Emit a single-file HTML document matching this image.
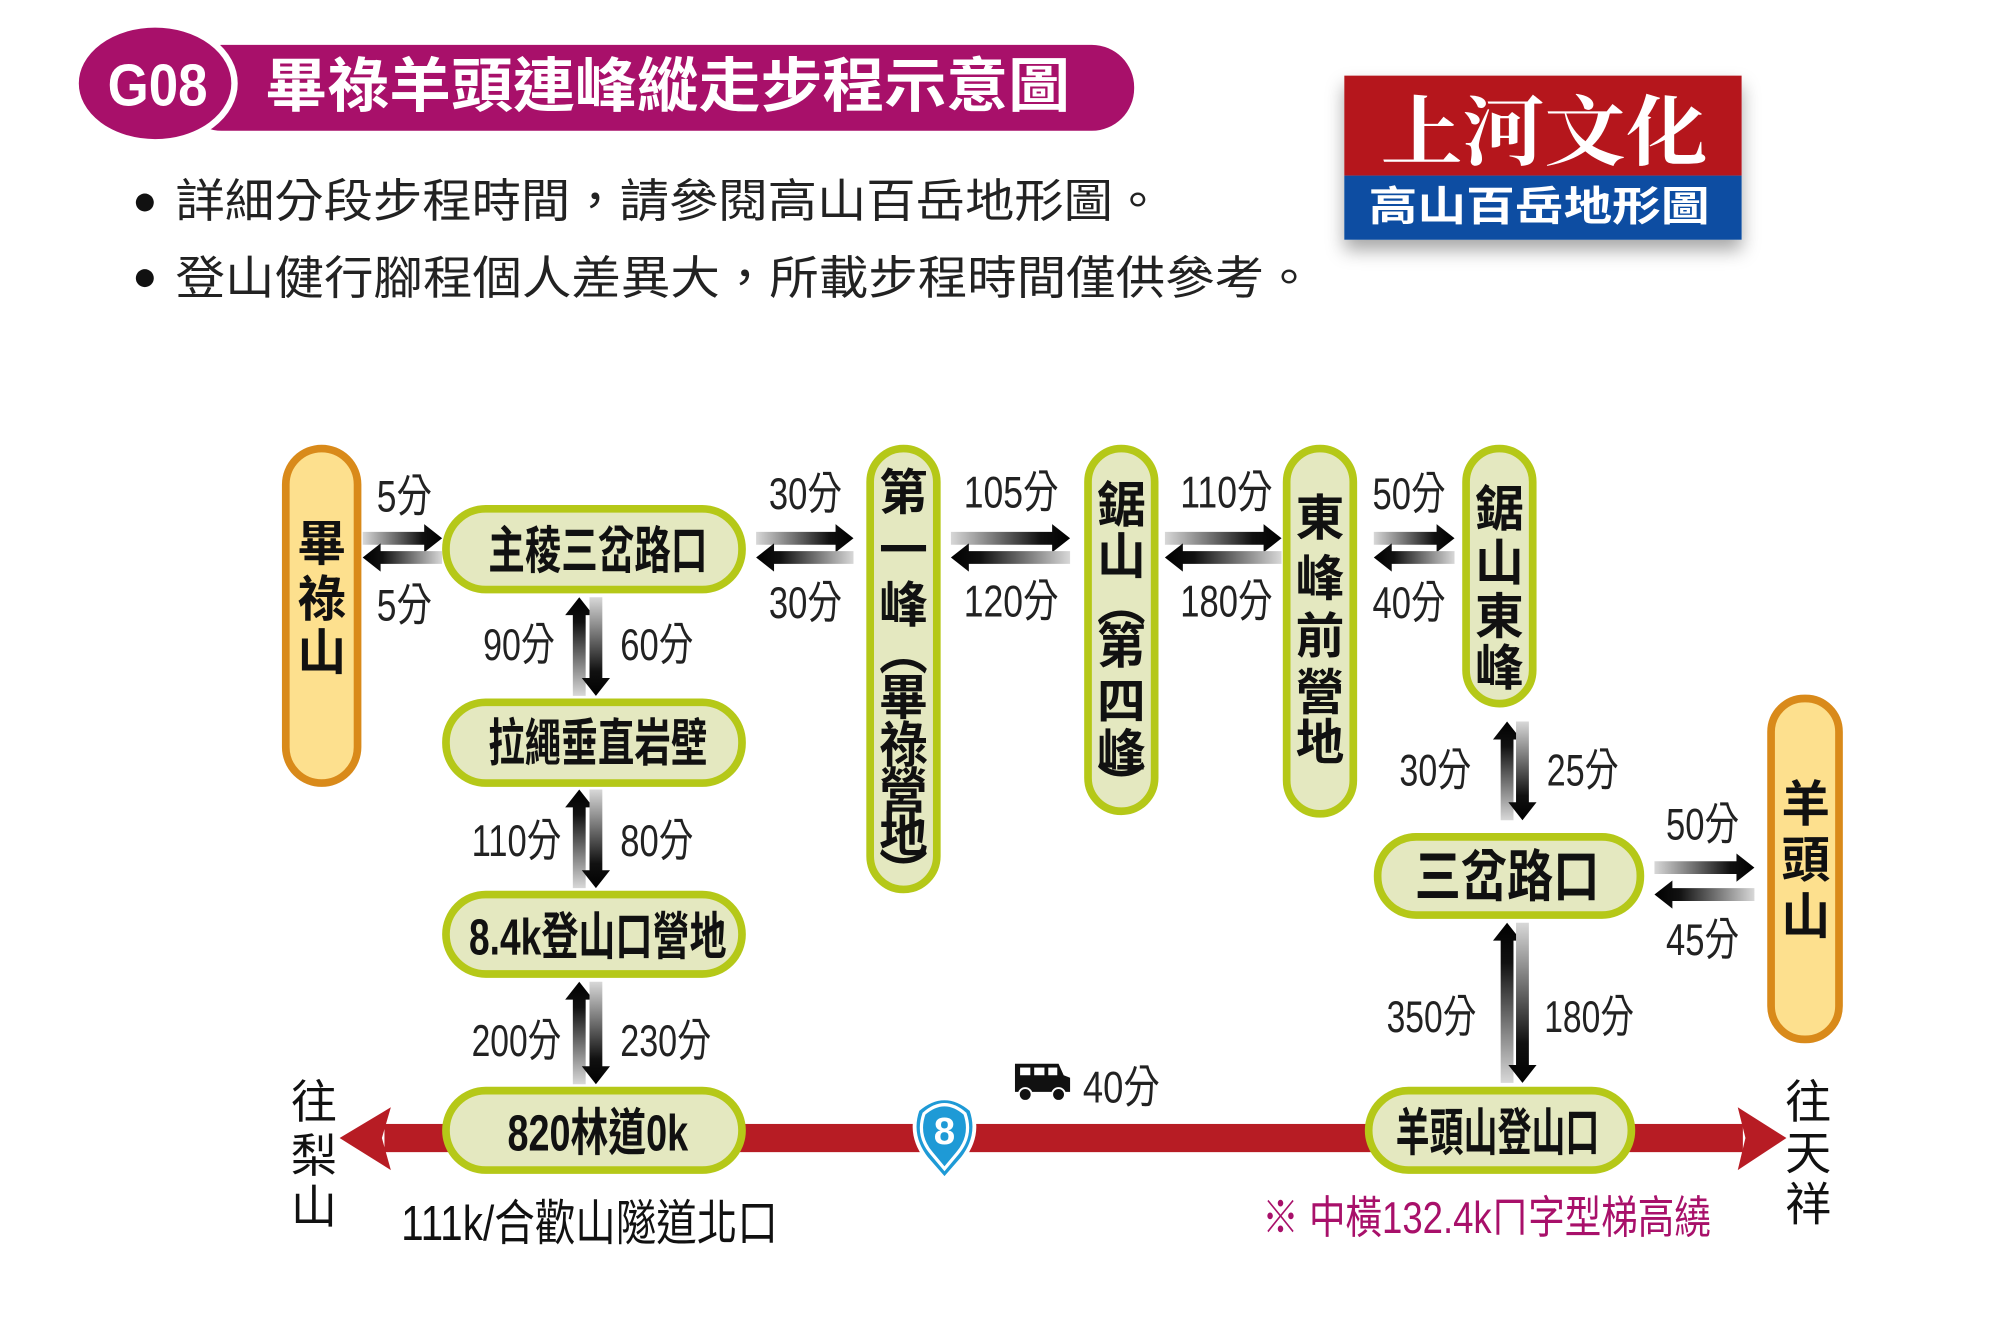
<!DOCTYPE html>
<html><head><meta charset="utf-8"><style>
html,body{margin:0;padding:0;background:#fff;}
svg{display:block;}
text{font-family:"Liberation Sans","Noto Sans CJK TC",sans-serif;}
.n{font-weight:bold;fill:#111;}
.l{fill:#222;font-size:35px;}
.v{font-weight:bold;fill:#111;font-size:38px;}
</style></head><body>
<svg width="2012" height="1338" viewBox="0 0 1570 1044" xmlns="http://www.w3.org/2000/svg">
<defs>
<linearGradient id="gR" x1="0" y1="0" x2="1" y2="0"><stop offset="0" stop-color="#d8d8d8"/><stop offset="0.75" stop-color="#111"/><stop offset="1" stop-color="#000"/></linearGradient>
<linearGradient id="gL" x1="1" y1="0" x2="0" y2="0"><stop offset="0" stop-color="#d8d8d8"/><stop offset="0.75" stop-color="#111"/><stop offset="1" stop-color="#000"/></linearGradient>
<linearGradient id="gU" x1="0" y1="1" x2="0" y2="0"><stop offset="0" stop-color="#d8d8d8"/><stop offset="0.75" stop-color="#111"/><stop offset="1" stop-color="#000"/></linearGradient>
<linearGradient id="gD" x1="0" y1="0" x2="0" y2="1"><stop offset="0" stop-color="#d8d8d8"/><stop offset="0.75" stop-color="#111"/><stop offset="1" stop-color="#000"/></linearGradient>
<filter id="sh" x="-10%" y="-10%" width="120%" height="140%"><feDropShadow dx="0" dy="8" stdDeviation="7" flood-color="#000" flood-opacity="0.35"/></filter>
</defs>

<!-- Header -->
<rect x="140" y="35" width="745" height="67" rx="33" fill="#a8106a"/>
<ellipse cx="121" cy="65" rx="62" ry="46" fill="#a8106a" stroke="#fff" stroke-width="5"/>
<text x="84" y="67" dominant-baseline="central" font-size="46" font-weight="bold" fill="#fff" textLength="78" lengthAdjust="spacingAndGlyphs">G08</text>
<text x="207" y="68" dominant-baseline="central" font-size="46" font-weight="bold" fill="#fff" textLength="628" lengthAdjust="spacingAndGlyphs">畢祿羊頭連峰縱走步程示意圖</text>

<circle cx="113" cy="158" r="7" fill="#111"/>
<text x="137" y="157" dominant-baseline="central" font-size="36" fill="#222" textLength="770" lengthAdjust="spacingAndGlyphs">詳細分段步程時間，請參閱高山百岳地形圖。</text>
<circle cx="113" cy="217" r="7" fill="#111"/>
<text x="137" y="217" dominant-baseline="central" font-size="36" fill="#222" textLength="888" lengthAdjust="spacingAndGlyphs">登山健行腳程個人差異大，所載步程時間僅供參考。</text>

<!-- Logo -->
<g filter="url(#sh)">
<rect x="1049" y="59" width="310" height="78" fill="#b5121b"/>
<rect x="1049" y="137" width="310" height="50" fill="#0b4ea2"/>
</g>
<text x="1205" y="98" text-anchor="middle" dominant-baseline="central" font-size="60" font-weight="bold" fill="#fff" style="font-family:'Noto Serif CJK SC','Noto Sans CJK TC',serif" textLength="255" lengthAdjust="spacingAndGlyphs">上河文化</text>
<text x="1201" y="161" text-anchor="middle" dominant-baseline="central" font-size="32" font-weight="bold" fill="#fff" textLength="266" lengthAdjust="spacingAndGlyphs">高山百岳地形圖</text>

<!-- Road -->
<rect x="300" y="877" width="1060" height="22" fill="#b71c24"/>
<polygon points="265,888 305,864 298,888 305,913" fill="#b71c24"/>
<polygon points="1394,888 1356,864 1362,888 1356,913" fill="#b71c24"/>

<!-- Route 8 shield -->
<path d="M716,866 Q737,848 758,866 Q765,886 751,904 L737,920 L723,904 Q709,886 716,866 Z" fill="#1e9ad6" stroke="#fff" stroke-width="3"/>
<path d="M721,869 Q737,855 753,869 Q759,886 747,900 L737,912 L727,900 Q715,886 721,869 Z" fill="none" stroke="#fff" stroke-width="2.5"/>
<text x="737" y="883" text-anchor="middle" dominant-baseline="central" font-size="30" font-weight="bold" fill="#fff">8</text>

<!-- Car -->
<path d="M792,830 L826,830 L830,839 L835,841 L835,852 L792,852 Z" fill="#111"/>
<rect x="796" y="833" width="8" height="6" fill="#fff"/><rect x="807" y="833" width="8" height="6" fill="#fff"/><rect x="818" y="833" width="7" height="6" fill="#fff"/>
<circle cx="800" cy="854" r="5" fill="#111" stroke="#fff" stroke-width="1.5"/><circle cx="826" cy="854" r="5" fill="#111" stroke="#fff" stroke-width="1.5"/>
<text class="l" x="845" y="848" dominant-baseline="central" textLength="60" lengthAdjust="spacingAndGlyphs">40分</text>

<!-- Horizontal arrows -->
<g>
<polygon fill="url(#gR)" points="283,415 331,415 331,409 345,420 331,431 331,425 283,425"/>
<polygon fill="url(#gL)" points="345,430 297,430 297,424 283,435 297,446 297,440 345,440"/>
<polygon fill="url(#gR)" points="590,415 652,415 652,409 666,420 652,431 652,425 590,425"/>
<polygon fill="url(#gL)" points="666,430 604,430 604,424 590,435 604,446 604,440 666,440"/>
<polygon fill="url(#gR)" points="742,415 821,415 821,409 835,420 821,431 821,425 742,425"/>
<polygon fill="url(#gL)" points="835,430 756,430 756,424 742,435 756,446 756,440 835,440"/>
<polygon fill="url(#gR)" points="909,415 986,415 986,409 1000,420 986,431 986,425 909,425"/>
<polygon fill="url(#gL)" points="1000,430 923,430 923,424 909,435 923,446 923,440 1000,440"/>
<polygon fill="url(#gR)" points="1072,415 1121,415 1121,409 1135,420 1121,431 1121,425 1072,425"/>
<polygon fill="url(#gL)" points="1135,430 1086,430 1086,424 1072,435 1086,446 1086,440 1135,440"/>
<polygon fill="url(#gR)" points="1291,672 1355,672 1355,666 1369,677 1355,688 1355,682 1291,682"/>
<polygon fill="url(#gL)" points="1369,693 1305,693 1305,687 1291,698 1305,709 1305,703 1369,703"/>
</g>
<!-- Vertical arrows -->
<g>
<polygon fill="url(#gU)" points="447,543 447,480 441,480 452,466 463,480 457,480 457,543"/>
<polygon fill="url(#gD)" points="460,466 460,529 454,529 465,543 476,529 470,529 470,466"/>
<polygon fill="url(#gU)" points="447,693 447,630 441,630 452,616 463,630 457,630 457,693"/>
<polygon fill="url(#gD)" points="460,616 460,679 454,679 465,693 476,679 470,679 470,616"/>
<polygon fill="url(#gU)" points="447,846 447,780 441,780 452,766 463,780 457,780 457,846"/>
<polygon fill="url(#gD)" points="460,766 460,832 454,832 465,846 476,832 470,832 470,766"/>
<polygon fill="url(#gU)" points="1171,640 1171,577 1165,577 1176,563 1187,577 1181,577 1181,640"/>
<polygon fill="url(#gD)" points="1183,563 1183,626 1177,626 1188,640 1199,626 1193,626 1193,563"/>
<polygon fill="url(#gU)" points="1171,845 1171,734 1165,734 1176,720 1187,734 1181,734 1181,845"/>
<polygon fill="url(#gD)" points="1183,720 1183,831 1177,831 1188,845 1199,831 1193,831 1193,720"/>
</g>

<!-- Nodes -->
<g stroke-width="6">
<rect x="223" y="350" width="56" height="261" rx="28" fill="#fde08e" stroke="#d98a1a"/>
<rect x="1382" y="545" width="53" height="266" rx="26" fill="#fde08e" stroke="#d98a1a"/>
<g fill="#e4e8c0" stroke="#b5c818">
<rect x="348" y="397" width="231" height="63" rx="31"/>
<rect x="348" y="548" width="231" height="63" rx="31"/>
<rect x="348" y="698" width="231" height="62" rx="31"/>
<rect x="348" y="851" width="231" height="62" rx="31"/>
<rect x="679" y="350" width="52" height="344" rx="26"/>
<rect x="849" y="350" width="52" height="283" rx="26"/>
<rect x="1004" y="350" width="52" height="285" rx="26"/>
<rect x="1144" y="350" width="52" height="199" rx="26"/>
<rect x="1075" y="653" width="205" height="61" rx="30"/>
<rect x="1068" y="851" width="205" height="62" rx="31"/>
</g>
</g>

<!-- Node labels horizontal -->
<g class="n" font-size="40" dominant-baseline="central">
<text x="381" y="430" textLength="171" lengthAdjust="spacingAndGlyphs">主稜三岔路口</text>
<text x="381" y="580" textLength="171" lengthAdjust="spacingAndGlyphs">拉繩垂直岩壁</text>
<text x="366" y="731" textLength="201" lengthAdjust="spacingAndGlyphs">8.4k登山口營地</text>
<text x="396" y="884" textLength="141" lengthAdjust="spacingAndGlyphs">820林道0k</text>
<text x="1104" y="684" font-size="44" textLength="144" lengthAdjust="spacingAndGlyphs">三岔路口</text>
<text x="1089" y="884" textLength="159" lengthAdjust="spacingAndGlyphs">羊頭山登山口</text>
</g>

<!-- Vertical labels -->
<g class="v" text-anchor="middle" dominant-baseline="central">
<text x="251" y="425">畢</text><text x="251" y="468">祿</text><text x="251" y="510">山</text>
<text x="705" y="385">第</text><text x="705" y="430">一</text><text x="705" y="473">峰</text><text x="705" y="510">︵</text><text x="705" y="545">畢</text><text x="705" y="582">祿</text><text x="705" y="618">營</text><text x="705" y="652">地</text><text x="705" y="682">︶</text>
<text x="875" y="395">鋸</text><text x="875" y="435">山</text><text x="875" y="472">︵</text><text x="875" y="505">第</text><text x="875" y="548">四</text><text x="875" y="588">峰</text><text x="875" y="614">︶</text>
<text x="1030" y="405">東</text><text x="1030" y="452">峰</text><text x="1030" y="497">前</text><text x="1030" y="541">營</text><text x="1030" y="580">地</text>
<text x="1170" y="398">鋸</text><text x="1170" y="440">山</text><text x="1170" y="482">東</text><text x="1170" y="522">峰</text>
<text x="1409" y="628">羊</text><text x="1409" y="672">頭</text><text x="1409" y="716">山</text>
</g>
<g text-anchor="middle" dominant-baseline="central" font-size="36" fill="#111">
<text x="245" y="860">往</text><text x="245" y="902">梨</text><text x="245" y="942">山</text>
<text x="1411" y="860">往</text><text x="1411" y="900">天</text><text x="1411" y="940">祥</text>
</g>

<!-- Time labels -->
<g class="l" dominant-baseline="central">
<text x="294" y="387" textLength="43" lengthAdjust="spacingAndGlyphs">5分</text>
<text x="294" y="472" textLength="43" lengthAdjust="spacingAndGlyphs">5分</text>
<text x="600" y="385" textLength="57" lengthAdjust="spacingAndGlyphs">30分</text>
<text x="600" y="470" textLength="57" lengthAdjust="spacingAndGlyphs">30分</text>
<text x="752" y="384" textLength="74" lengthAdjust="spacingAndGlyphs">105分</text>
<text x="752" y="469" textLength="74" lengthAdjust="spacingAndGlyphs">120分</text>
<text x="921" y="384" textLength="72" lengthAdjust="spacingAndGlyphs">110分</text>
<text x="921" y="469" textLength="72" lengthAdjust="spacingAndGlyphs">180分</text>
<text x="1071" y="385" textLength="57" lengthAdjust="spacingAndGlyphs">50分</text>
<text x="1071" y="470" textLength="57" lengthAdjust="spacingAndGlyphs">40分</text>
<text x="377" y="503" textLength="56" lengthAdjust="spacingAndGlyphs">90分</text>
<text x="484" y="503" textLength="57" lengthAdjust="spacingAndGlyphs">60分</text>
<text x="368" y="656" textLength="70" lengthAdjust="spacingAndGlyphs">110分</text>
<text x="484" y="656" textLength="57" lengthAdjust="spacingAndGlyphs">80分</text>
<text x="368" y="812" textLength="70" lengthAdjust="spacingAndGlyphs">200分</text>
<text x="484" y="812" textLength="71" lengthAdjust="spacingAndGlyphs">230分</text>
<text x="1092" y="601" textLength="56" lengthAdjust="spacingAndGlyphs">30分</text>
<text x="1207" y="601" textLength="56" lengthAdjust="spacingAndGlyphs">25分</text>
<text x="1300" y="643" textLength="57" lengthAdjust="spacingAndGlyphs">50分</text>
<text x="1300" y="733" textLength="57" lengthAdjust="spacingAndGlyphs">45分</text>
<text x="1082" y="793" textLength="70" lengthAdjust="spacingAndGlyphs">350分</text>
<text x="1205" y="793" textLength="70" lengthAdjust="spacingAndGlyphs">180分</text>
</g>

<text x="313" y="955" dominant-baseline="central" font-size="38" fill="#111" textLength="294" lengthAdjust="spacingAndGlyphs">111k/合歡山隧道北口</text>
<text x="985" y="950" dominant-baseline="central" font-size="35" fill="#a8106a" textLength="350" lengthAdjust="spacingAndGlyphs">※ 中橫132.4kㄇ字型梯高繞</text>
</svg>
</body></html>
